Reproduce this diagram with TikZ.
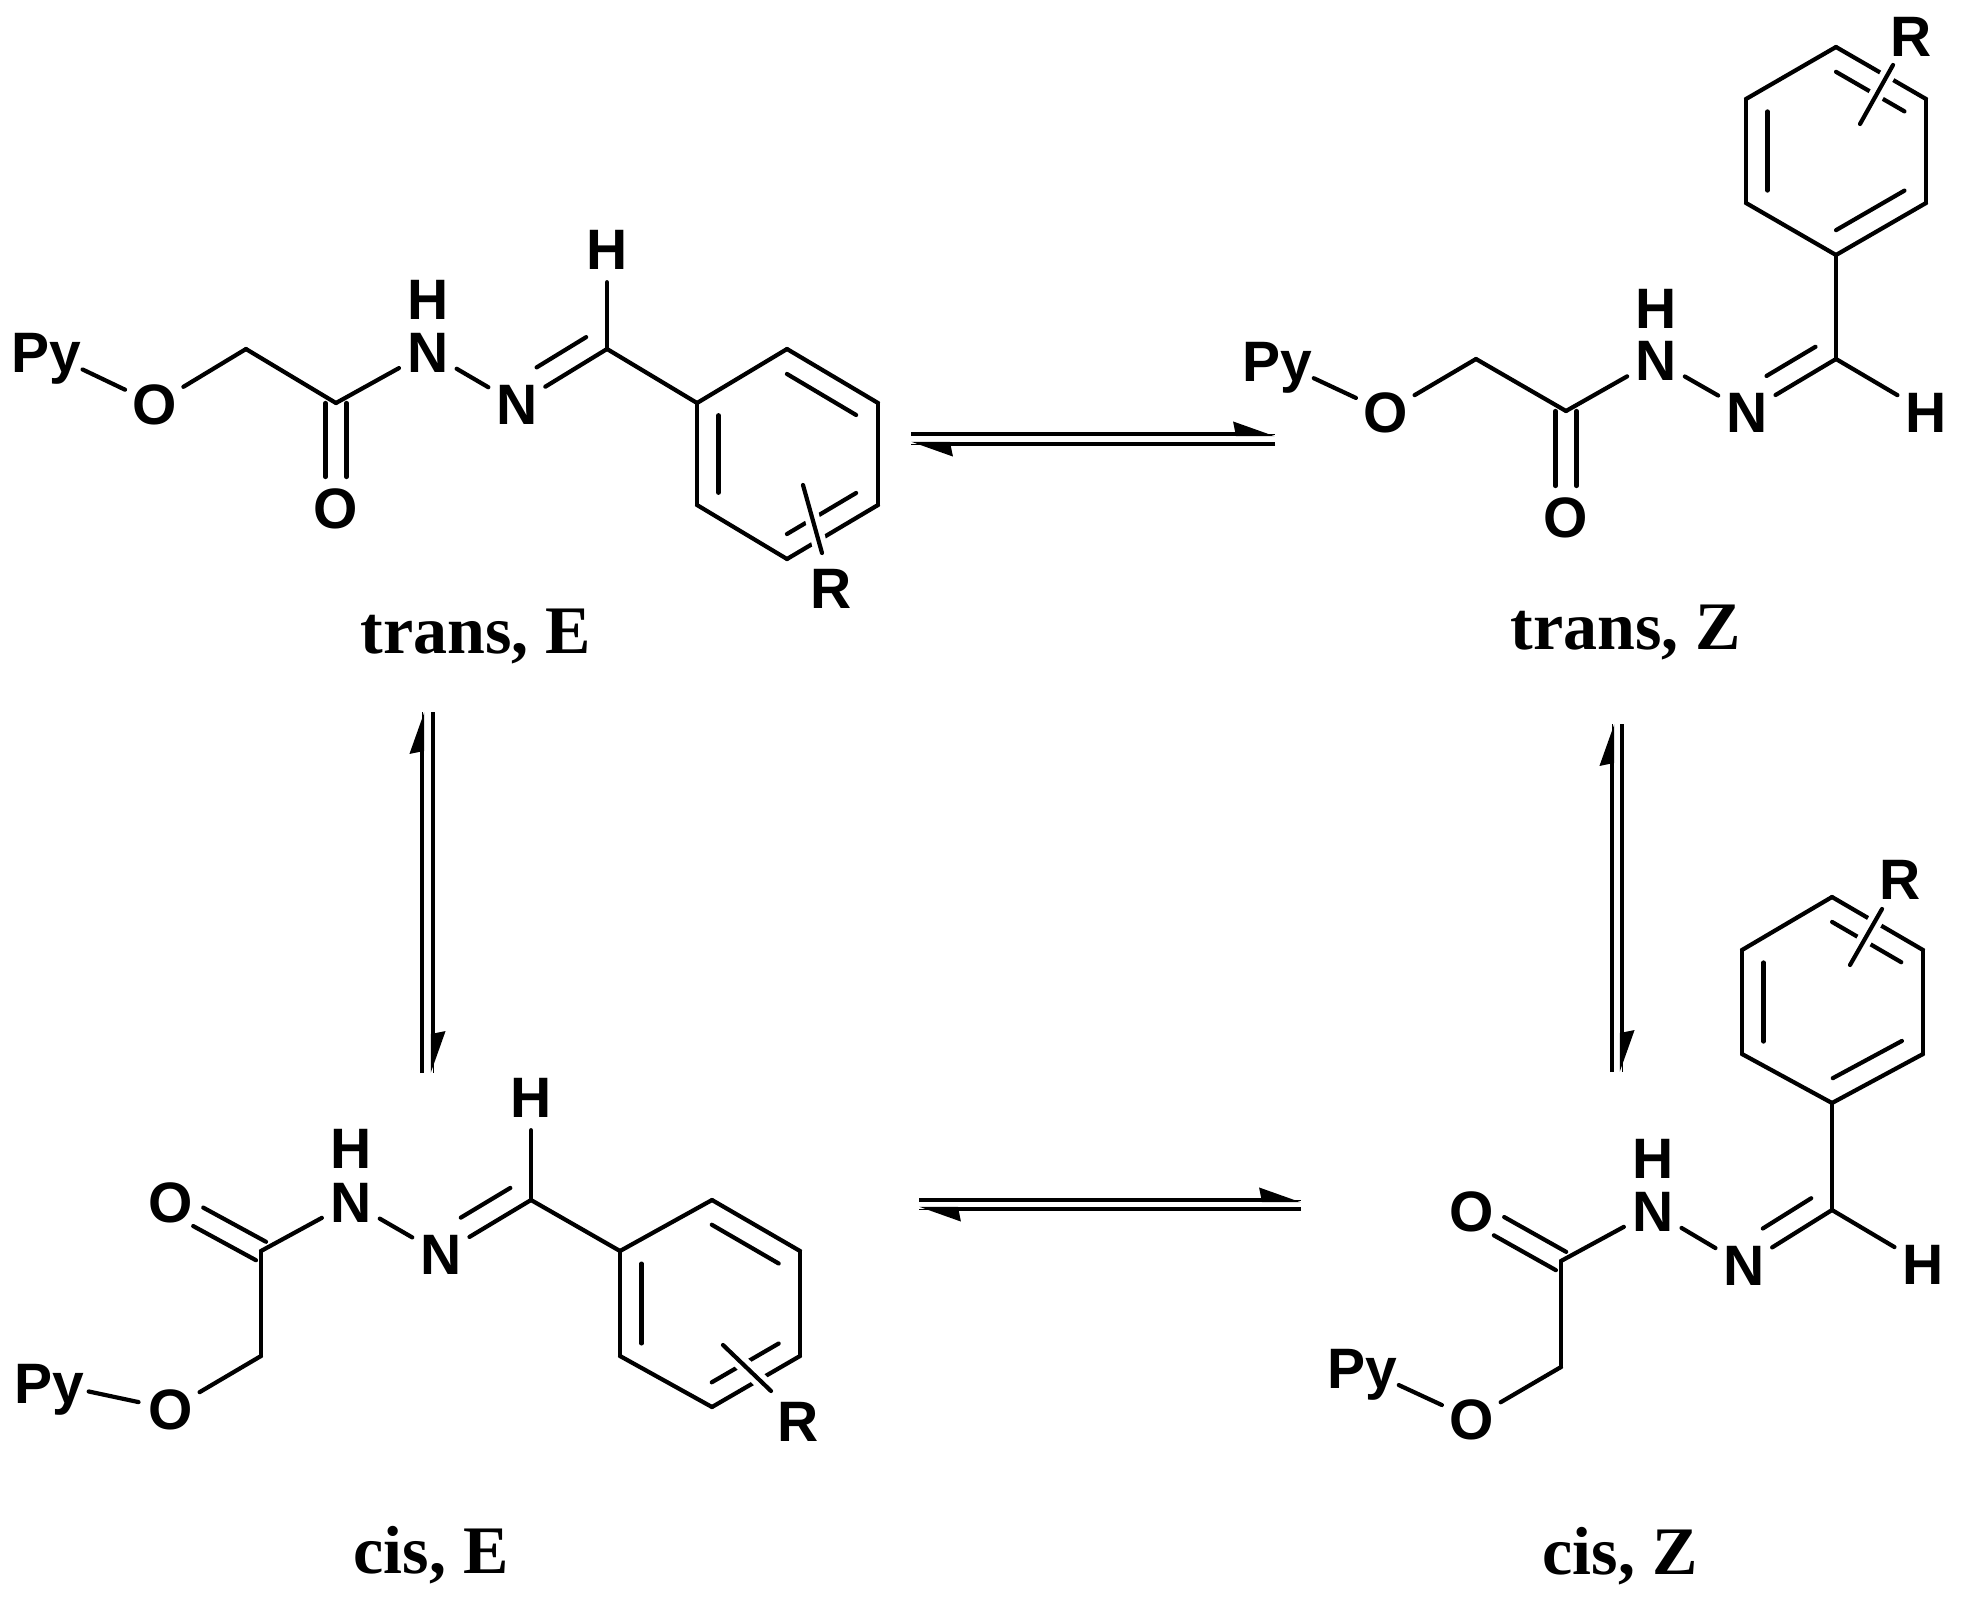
\documentclass[tikz,border=0pt]{standalone}
\usepackage{fontspec}
\setmainfont{Liberation Serif}
\newfontfamily\atomfont{Liberation Sans}
\usetikzlibrary{arrows.meta,calc}
\tikzset{
  atom/.style={circle, inner sep=0pt, minimum size=66pt, text height=41pt, text depth=0pt, font=\atomfont\bfseries\fontsize{57}{60}\selectfont},
  isoLabel/.style={anchor=base, inner sep=0pt, font=\bfseries\fontsize{68}{72}\selectfont},
  bond/.style={line width=4.2pt, line cap=round},
  subBond/.style={bond, preaction={draw, white, line width=15pt, line cap=butt}},
  halfArrow/.style={line width=4.4pt, preaction={draw, arrows=-}, -{Stealth[harpoon, length=35pt, width=24pt, inset=2pt]}}
}
% Phenyl ring, numbered clockwise from the attached carbon
\newcommand{\benzene}[1]{
  \foreach \i/\j in {1/2,2/3,3/4,4/5,5/6,6/1} {
    \draw[bond] (#1\i) -- (#1\j);
  }
  \foreach \i/\j in {3/2,5/4,1/6} {
    \draw[bond] ($(#1\i)!0.12!(#1\j)!21.5pt!90:(#1\j)$) -- ($(#1\j)!0.12!(#1\i)!21.5pt!-90:(#1\i)$);
  }
}
% C=N with the short second line on one side
\newcommand{\imine}[2]{
  \draw[bond] (#1) -- (#2);
  \draw[bond] ($(#1)!0.11!(#2)!21pt!-90:(#2)$) -- ($(#2)!0.34!(#1)!21pt!90:(#1)$);
}
% C=O with two lines either side of the axis
\newcommand{\carbonyl}[2]{
  \draw[bond, shorten >=31pt] ($(#1)!10.5pt!90:(#2)$) -- ($(#2)!10.5pt!-90:(#1)$);
  \draw[bond, shorten >=31pt] ($(#1)!10.5pt!-90:(#2)$) -- ($(#2)!10.5pt!90:(#1)$);
}
% Bonds every isomer has
\newcommand{\chain}[1]{
  \draw[bond] (#1Py) -- (#1O);
  \draw[bond] (#1O) -- (#1CH);
  \draw[bond] (#1CH) -- (#1CO);
  \draw[bond] (#1CO) -- (#1N);
  \draw[bond] (#1N) -- (#1Ni);
  \draw[bond] (#1Cm) -- (#1H);
  \draw[bond] (#1Cm) -- (#11);
  \carbonyl{#1CO}{#1Oc}
  \imine{#1Cm}{#1Ni}
  \benzene{#1}
  \draw[subBond] (#1Ra) -- (#1Rb);
}

\begin{document}
\begin{tikzpicture}[x=1pt, y=-1pt]
\useasboundingbox (0,0) rectangle (1965,1603);

% trans, E
\node[atom] (APy) at (46,352) {Py};
\node[atom] (AO) at (155,404) {O};
\coordinate (ACH) at (246,349);
\coordinate (ACO) at (336,403);
\node[atom] (AOc) at (336,508) {O};
\node[atom] (AN) at (428,352) {N};
\node[atom] (AHN) at (428,299) {H};
\node[atom] (ANi) at (517,404) {N};
\coordinate (ACm) at (607,349);
\node[atom] (AH) at (607,249) {H};
\coordinate (A1) at (697,403);
\coordinate (A2) at (787,349);
\coordinate (A3) at (878,403);
\coordinate (A4) at (878,505);
\coordinate (A5) at (787,559);
\coordinate (A6) at (697,505);
\coordinate (ARa) at (803,485);
\coordinate (ARb) at (822,553);
\node[atom] (AR) at (831,588) {R};
\chain{A}
\node[isoLabel] (Alabel) at (476,653) {trans, E};

% trans, Z
\node[atom] (BPy) at (1277,361) {Py};
\node[atom] (BO) at (1386,412) {O};
\coordinate (BCH) at (1476,359);
\coordinate (BCO) at (1566,411);
\node[atom] (BOc) at (1566,517) {O};
\node[atom] (BN) at (1656,360) {N};
\node[atom] (BHN) at (1656,308) {H};
\node[atom] (BNi) at (1747,412) {N};
\coordinate (BCm) at (1836,359);
\node[atom] (BH) at (1926,412) {H};
\coordinate (B1) at (1836,255);
\coordinate (B2) at (1746,203);
\coordinate (B3) at (1746,99);
\coordinate (B4) at (1836,47);
\coordinate (B5) at (1926,99);
\coordinate (B6) at (1926,203);
\coordinate (BRa) at (1893,65);
\coordinate (BRb) at (1860,124);
\node[atom] (BR) at (1911,36) {R};
\chain{B}
\node[isoLabel] (Blabel) at (1626,649) {trans, Z};

% cis, E
\node[atom] (CPy) at (49,1383) {Py};
\node[atom] (CO) at (171,1409) {O};
\coordinate (CCH) at (261,1356);
\coordinate (CCO) at (261,1251);
\node[atom] (COc) at (171,1202) {O};
\node[atom] (CN) at (351,1202) {N};
\node[atom] (CHN) at (351,1148) {H};
\node[atom] (CNi) at (441,1254) {N};
\coordinate (CCm) at (531,1200);
\node[atom] (CH) at (531,1097) {H};
\coordinate (C1) at (620,1251);
\coordinate (C2) at (712,1200);
\coordinate (C3) at (800,1251);
\coordinate (C4) at (800,1356);
\coordinate (C5) at (712,1407);
\coordinate (C6) at (620,1356);
\coordinate (CRa) at (723,1345);
\coordinate (CRb) at (771,1391);
\node[atom] (CR) at (798,1421) {R};
\chain{C}
\node[isoLabel] (Clabel) at (431,1573) {cis, E};

% cis, Z
\node[atom] (DPy) at (1362,1368) {Py};
\node[atom] (DO) at (1472,1419) {O};
\coordinate (DCH) at (1561,1367);
\coordinate (DCO) at (1561,1261);
\node[atom] (DOc) at (1472,1211) {O};
\node[atom] (DN) at (1653,1211) {N};
\node[atom] (DHN) at (1653,1158) {H};
\node[atom] (DNi) at (1744,1265) {N};
\coordinate (DCm) at (1832,1210);
\node[atom] (DH) at (1923,1264) {H};
\coordinate (D1) at (1832,1103);
\coordinate (D2) at (1742,1054);
\coordinate (D3) at (1742,950);
\coordinate (D4) at (1832,897);
\coordinate (D5) at (1923,950);
\coordinate (D6) at (1923,1054);
\coordinate (DRa) at (1882,909);
\coordinate (DRb) at (1850,965);
\node[atom] (DR) at (1900,879) {R};
\chain{D}
\node[isoLabel] (Dlabel) at (1620,1574) {cis, Z};

% Equilibrium arrows
\coordinate (ABa) at (911,434);
\coordinate (ABb) at (1275,434);
\coordinate (ABc) at (1275,444);
\coordinate (ABd) at (911,444);
\draw[halfArrow] (ABa) -- (ABb);
\draw[halfArrow] (ABc) -- (ABd);

\coordinate (CDa) at (919,1200);
\coordinate (CDb) at (1301,1200);
\coordinate (CDc) at (1301,1209);
\coordinate (CDd) at (919,1209);
\draw[halfArrow] (CDa) -- (CDb);
\draw[halfArrow] (CDc) -- (CDd);

\coordinate (ACa) at (422,1073);
\coordinate (ACb) at (422,712);
\coordinate (ACc) at (433,712);
\coordinate (ACd) at (433,1073);
\draw[halfArrow] (ACa) -- (ACb);
\draw[halfArrow] (ACc) -- (ACd);

\coordinate (BDa) at (1612,1072);
\coordinate (BDb) at (1612,724);
\coordinate (BDc) at (1622,724);
\coordinate (BDd) at (1622,1072);
\draw[halfArrow] (BDa) -- (BDb);
\draw[halfArrow] (BDc) -- (BDd);

\end{tikzpicture}
\end{document}
